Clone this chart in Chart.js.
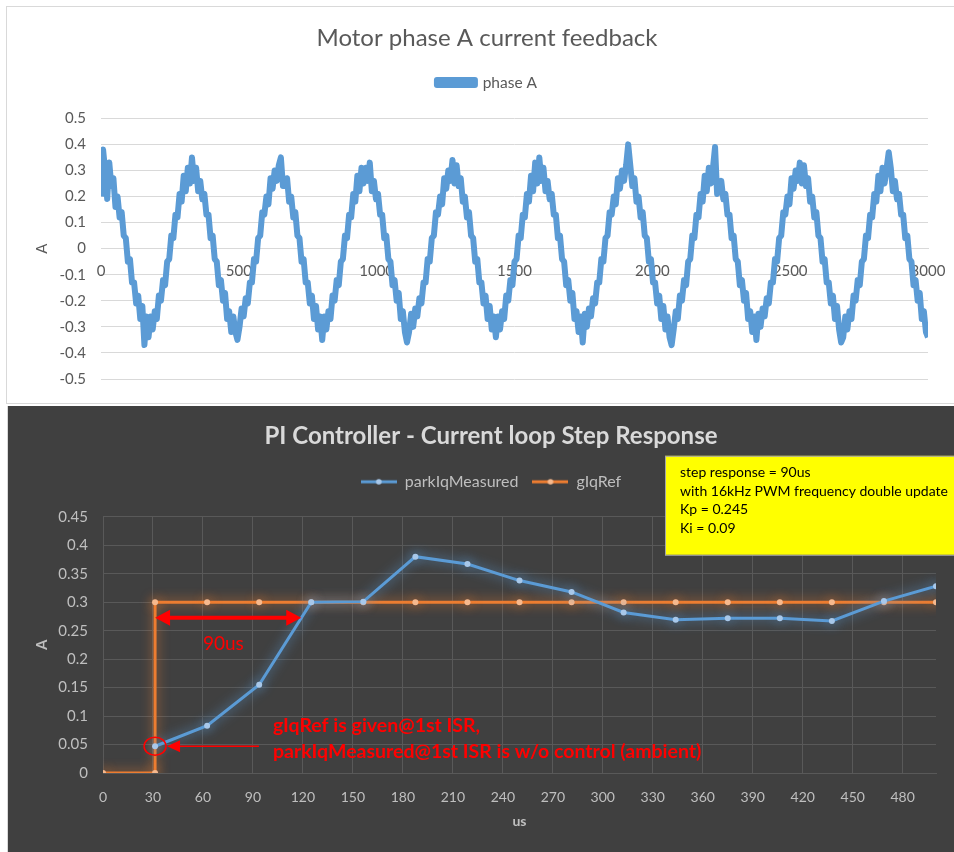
<!DOCTYPE html>
<html>
<head>
<meta charset="utf-8">
<script src="https://cdn.jsdelivr.net/npm/chart.js@4.4.1/dist/chart.umd.min.js"></script>
<style>
  html, body { margin: 0; padding: 0; background: #fff; }
  body { width: 954px; height: 852px; position: relative; overflow: hidden; }
  #topBox { position: absolute; left: 6px; top: 6px; width: 948px; height: 396px;
            border-top: 1px solid #d9d9d9; border-left: 1px solid #d9d9d9; border-bottom: 1px solid #d9d9d9; background: #fff; }
  #botBox { position: absolute; left: 7px; top: 406px; width: 947px; height: 446px;
            border-left: 1px solid #d9d9d9; background: #404040; }
  canvas { display: block; }
</style>
</head>
<body>
<div id="topBox"><canvas id="phaseChart" width="948" height="396"></canvas></div>
<div id="botBox"><canvas id="stepChart" width="947" height="446"></canvas></div>
<script>
// ---- top chart: phase A current, one sample every 7.5 us (one row per electrical period) ----
const phaseStepUs = 7.5;
const phaseA = [
  0.20, 0.38,
  0.30, 0.19, 0.33, 0.24, 0.27, 0.16, 0.20, 0.12, 0.14, 0.05, 0.04, -0.05, -0.04, -0.13, -0.13, -0.21, -0.18, -0.27, -0.22, -0.37, -0.26, -0.34, -0.26, -0.31, -0.24, -0.27, -0.18, -0.20, -0.12, -0.14, -0.05, -0.04, 0.05, 0.04, 0.13, 0.12, 0.21, 0.18, 0.28, 0.22, 0.31, 0.25,
  0.35, 0.26, 0.31, 0.22, 0.26, 0.19, 0.21, 0.13, 0.13, 0.04, 0.05, -0.04, -0.05, -0.14, -0.12, -0.20, -0.17, -0.27, -0.24, -0.32, -0.26, -0.32, -0.35, -0.30, -0.23, -0.26, -0.19, -0.21, -0.13, -0.13, -0.04, -0.05, 0.04, 0.05, 0.14, 0.13, 0.20, 0.17, 0.27, 0.23, 0.30, 0.26,
  0.32, 0.35, 0.24, 0.24, 0.27, 0.18, 0.20, 0.12, 0.14, 0.05, 0.04, -0.05, -0.04, -0.13, -0.13, -0.21, -0.18, -0.27, -0.22, -0.31, -0.26, -0.35, -0.26, -0.31, -0.24, -0.27, -0.18, -0.20, -0.12, -0.14, -0.05, -0.04, 0.05, 0.04, 0.13, 0.12, 0.21, 0.18, 0.28, 0.22, 0.31, 0.25,
  0.31, 0.26, 0.33, 0.22, 0.26, 0.19, 0.21, 0.13, 0.13, 0.04, 0.05, -0.04, -0.05, -0.14, -0.12, -0.20, -0.17, -0.27, -0.24, -0.32, -0.36, -0.32, -0.25, -0.30, -0.23, -0.26, -0.19, -0.21, -0.13, -0.13, -0.04, -0.05, 0.04, 0.05, 0.14, 0.13, 0.20, 0.17, 0.27, 0.23, 0.30, 0.26,
  0.34, 0.25, 0.32, 0.24, 0.27, 0.18, 0.20, 0.12, 0.14, 0.05, 0.04, -0.05, -0.04, -0.13, -0.13, -0.21, -0.18, -0.27, -0.22, -0.31, -0.26, -0.34, -0.26, -0.31, -0.24, -0.27, -0.18, -0.20, -0.12, -0.14, -0.05, -0.04, 0.05, 0.04, 0.13, 0.12, 0.21, 0.18, 0.28, 0.22, 0.33, 0.25,
  0.35, 0.26, 0.31, 0.22, 0.26, 0.19, 0.21, 0.13, 0.13, 0.04, 0.05, -0.04, -0.05, -0.14, -0.12, -0.20, -0.17, -0.27, -0.24, -0.32, -0.26, -0.36, -0.25, -0.30, -0.23, -0.26, -0.19, -0.21, -0.13, -0.13, -0.04, -0.05, 0.04, 0.05, 0.14, 0.13, 0.20, 0.17, 0.27, 0.23, 0.30, 0.26,
  0.32, 0.40, 0.32, 0.24, 0.27, 0.18, 0.20, 0.12, 0.14, 0.05, 0.04, -0.05, -0.04, -0.13, -0.13, -0.21, -0.18, -0.27, -0.22, -0.31, -0.26, -0.34, -0.37, -0.31, -0.24, -0.27, -0.18, -0.20, -0.12, -0.14, -0.05, -0.04, 0.05, 0.04, 0.13, 0.12, 0.21, 0.18, 0.28, 0.22, 0.31, 0.25,
  0.31, 0.39, 0.21, 0.22, 0.26, 0.19, 0.21, 0.13, 0.13, 0.04, 0.05, -0.04, -0.05, -0.14, -0.12, -0.20, -0.17, -0.27, -0.24, -0.32, -0.26, -0.35, -0.25, -0.30, -0.23, -0.26, -0.19, -0.21, -0.13, -0.13, -0.04, -0.05, 0.04, 0.05, 0.14, 0.13, 0.20, 0.17, 0.27, 0.23, 0.30, 0.26,
  0.33, 0.25, 0.32, 0.24, 0.27, 0.18, 0.20, 0.12, 0.14, 0.05, 0.04, -0.05, -0.04, -0.13, -0.13, -0.21, -0.18, -0.27, -0.22, -0.31, -0.36, -0.34, -0.26, -0.31, -0.24, -0.27, -0.18, -0.20, -0.12, -0.14, -0.05, -0.04, 0.05, 0.04, 0.13, 0.12, 0.21, 0.18, 0.28, 0.22, 0.31, 0.25,
  0.31, 0.37, 0.31, 0.22, 0.26, 0.19, 0.21, 0.13, 0.13, 0.04, 0.05, -0.04, -0.05, -0.14, -0.12, -0.20, -0.17, -0.27, -0.24, -0.32, -0.34
];

// ---- bottom chart: PI step response ----
const measTimesUs = [31.25, 62.5, 93.75, 125, 156.25, 187.5, 218.75, 250, 281.25, 312.5, 343.75, 375, 406.25, 437.5, 468.75, 500];
const parkIqMeasured = [0.047, 0.083, 0.155, 0.300, 0.301, 0.380, 0.367, 0.338, 0.318, 0.282, 0.269, 0.272, 0.272, 0.267, 0.302, 0.328];
const refTimesUs = [0, 31.25, 31.25, 62.5, 93.75, 125, 156.25, 187.5, 218.75, 250, 281.25, 312.5, 343.75, 375, 406.25, 437.5, 468.75, 500];
const gIqRef = [0, 0, 0.3, 0.3, 0.3, 0.3, 0.3, 0.3, 0.3, 0.3, 0.3, 0.3, 0.3, 0.3, 0.3, 0.3, 0.3, 0.3];

const noteBox = ['step response = 90us', 'with 16kHz PWM frequency double update', 'Kp = 0.245', 'Ki = 0.09'];
const noteLines = ['gIqRef is given@1st ISR,', 'parkIqMeasured@1st ISR is w/o control (ambient)'];
const spanNote = { from: 31.25, to: 119, at: 0.2725, text: '90us', textX: 60, textY: 0.227 };
const circleNote = { x: 31.25, y: 0.047, arrowFrom: 93.6, textX: 102, textY1: 0.0826, textY2: 0.037 };

Chart.defaults.font.family = 'Lato, "Open Sans", sans-serif';
Chart.defaults.animation = false;

// empty axis used only to leave room between the legend and the plot
const spacerAxis = h => ({
  type: 'linear', axis: 'x', position: 'top',
  ticks: { display: false }, grid: { display: false, drawTicks: false }, border: { display: false },
  afterFit(s) { s.height = h; }
});

const glowPlugin = {
  id: 'glow',
  beforeDatasetDraw(chart, args) {
    const ds = chart.data.datasets[args.index];
    if (!ds.glow) return;
    chart.ctx.save();
    chart.ctx.shadowColor = ds.glow;
    chart.ctx.shadowBlur = 12;
  },
  afterDatasetDraw(chart, args) {
    if (chart.data.datasets[args.index].glow) chart.ctx.restore();
  }
};

new Chart(document.getElementById('phaseChart'), {
  type: 'line',
  data: {
    datasets: [{
      label: 'phase A',
      data: phaseA.map((v, i) => ({ x: i * phaseStepUs, y: v })),
      xAxisID: 'x', yAxisID: 'y',
      borderColor: '#5b9bd5',
      backgroundColor: '#5b9bd5',
      borderWidth: 6,
      borderJoinStyle: 'round',
      pointRadius: 0
    }]
  },
  options: {
    responsive: false,
    layout: { padding: { left: 39, right: 27, top: 0, bottom: 16 } },
    plugins: {
      title: { display: true, text: 'Motor phase A current feedback', color: '#595959',
               font: { size: 24, weight: 'normal' }, padding: { top: 17, bottom: 12 } },
      legend: { labels: { color: '#595959', font: { size: 15.5 }, boxWidth: 38, boxHeight: 5 } },
      tooltip: { enabled: false }
    },
    scales: {
      x: {
        type: 'linear', min: 0, max: 3000, position: { y: 0 },
        ticks: { stepSize: 500, color: '#595959', font: { size: 15 }, padding: 6, callback: v => String(v) },
        grid: { display: false },
        border: { color: '#d9d9d9' }
      },
      y: {
        min: -0.5, max: 0.5,
        ticks: { stepSize: 0.1, color: '#595959', font: { size: 15 }, padding: 15,
                 callback: v => String(Math.round(v * 10) / 10) },
        grid: { color: '#d9d9d9', drawTicks: false },
        border: { display: false },
        title: { display: true, text: 'A', color: '#595959', font: { size: 15 }, padding: { top: -13 } },
        afterFit(s) { s.width = 55; }
      },
      gap: spacerAxis(18)
    }
  }
});

function legendSample(line, dot) {
  const c = document.createElement('canvas');
  c.width = 36; c.height = 8;
  const g = c.getContext('2d');
  g.strokeStyle = line; g.lineWidth = 3;
  g.beginPath(); g.moveTo(0, 4); g.lineTo(36, 4); g.stroke();
  g.fillStyle = dot;
  g.beginPath(); g.arc(18, 4, 2.8, 0, Math.PI * 2); g.fill();
  return c;
}

function arrowHead(ctx, tipX, tipY, dir, len, half) {
  ctx.beginPath();
  ctx.moveTo(tipX, tipY);
  ctx.lineTo(tipX - dir * len, tipY - half);
  ctx.lineTo(tipX - dir * len, tipY + half);
  ctx.closePath();
  ctx.fill();
}

const notesPlugin = {
  id: 'notes',
  afterDraw(chart) {
    const ctx = chart.ctx, xs = chart.scales.x, ys = chart.scales.y, area = chart.chartArea;
    ctx.save();
    // span arrow
    const ay = ys.getPixelForValue(spanNote.at);
    const ax1 = xs.getPixelForValue(spanNote.from), ax2 = xs.getPixelForValue(spanNote.to);
    ctx.strokeStyle = '#ff0000'; ctx.fillStyle = '#ff0000'; ctx.lineWidth = 4;
    ctx.beginPath(); ctx.moveTo(ax1 + 10, ay); ctx.lineTo(ax2 - 10, ay); ctx.stroke();
    arrowHead(ctx, ax1, ay, -1, 15, 8);
    arrowHead(ctx, ax2, ay, 1, 15, 8);
    ctx.font = '19px Lato';
    ctx.textBaseline = 'middle'; ctx.textAlign = 'left';
    ctx.fillText(spanNote.text, xs.getPixelForValue(spanNote.textX), ys.getPixelForValue(spanNote.textY));
    // circle + pointer
    const cx = xs.getPixelForValue(circleNote.x), cy = ys.getPixelForValue(circleNote.y);
    ctx.lineWidth = 1.5;
    ctx.beginPath(); ctx.ellipse(cx, cy, 11, 9, 0, 0, Math.PI * 2); ctx.stroke();
    const tip = cx + 12;
    ctx.beginPath(); ctx.moveTo(tip + 10, cy); ctx.lineTo(xs.getPixelForValue(circleNote.arrowFrom), cy); ctx.stroke();
    arrowHead(ctx, tip, cy, -1, 13, 6);
    ctx.font = 'bold 19.5px Lato';
    const tx = xs.getPixelForValue(circleNote.textX);
    ctx.fillText(noteLines[0], tx, ys.getPixelForValue(circleNote.textY1));
    ctx.fillText(noteLines[1], tx, ys.getPixelForValue(circleNote.textY2));
    // yellow box
    const bx = area.right - 271, by = area.top - 61;
    ctx.fillStyle = '#ffff00';
    ctx.fillRect(bx, by, chart.width - bx + 2, 99);
    ctx.strokeStyle = '#a6a6a6'; ctx.lineWidth = 1;
    ctx.strokeRect(bx + 0.5, by + 0.5, chart.width - bx + 2, 99);
    ctx.fillStyle = '#000';
    ctx.font = '14px Lato';
    noteBox.forEach((t, i) => ctx.fillText(t, bx + 15, by + 17 + i * 18.5));
    ctx.restore();
  }
};

new Chart(document.getElementById('stepChart'), {
  type: 'line',
  data: {
    datasets: [{
      label: 'parkIqMeasured',
      data: measTimesUs.map((t, i) => ({ x: t, y: parkIqMeasured[i] })),
      xAxisID: 'x', yAxisID: 'y',
      borderColor: '#5b9bd5',
      borderWidth: 3,
      pointRadius: 3,
      pointBorderWidth: 0,
      pointBackgroundColor: '#a8c8ea',
      glow: 'rgba(91,155,213,0.9)',
      legendImg: legendSample('#5b9bd5', '#a8c8ea')
    }, {
      label: 'gIqRef',
      data: refTimesUs.map((t, i) => ({ x: t, y: gIqRef[i] })),
      xAxisID: 'x', yAxisID: 'y',
      borderColor: '#ed7d31',
      borderWidth: 3,
      pointRadius: 3,
      pointBorderWidth: 0,
      pointBackgroundColor: '#f6b98e',
      glow: 'rgba(237,125,49,0.9)',
      legendImg: legendSample('#ed7d31', '#f6b98e')
    }]
  },
  options: {
    responsive: false,
    layout: { padding: { left: 38, right: 19, top: 0, bottom: 0 } },
    plugins: {
      title: { display: true, text: 'PI Controller - Current loop Step Response', color: '#d9d9d9',
               font: { size: 24, weight: 'bold' }, padding: { top: 16, bottom: 9 } },
      legend: {
        labels: {
          color: '#bfbfbf', font: { size: 16 }, usePointStyle: true, pointStyleWidth: 36, padding: 14,
          generateLabels(chart) {
            return chart.data.datasets.map((ds, i) => ({
              text: ds.label, pointStyle: ds.legendImg, datasetIndex: i, hidden: false,
              fontColor: '#bfbfbf', lineWidth: 0
            }));
          }
        }
      },
      tooltip: { enabled: false }
    },
    scales: {
      x: {
        type: 'linear', min: 0, max: 500,
        ticks: { stepSize: 30, includeBounds: false, color: '#bfbfbf', font: { size: 14 }, padding: 16 },
        grid: { color: '#595959', drawTicks: false },
        border: { color: '#595959' },
        title: { display: true, text: 'us', color: '#bfbfbf', font: { size: 14, weight: 'bold' }, padding: { bottom: 22 } },
        afterFit(s) { s.height = 79; }
      },
      y: {
        min: 0, max: 0.45,
        ticks: { stepSize: 0.05, color: '#bfbfbf', font: { size: 15 }, padding: 15,
                 callback: v => String(Math.round(v * 100) / 100) },
        grid: { color: '#595959', drawTicks: false },
        border: { color: '#595959' },
        title: { display: true, text: 'A', color: '#bfbfbf', font: { size: 15, weight: 'bold' }, padding: { top: -13 } },
        afterFit(s) { s.width = 57; }
      },
      gap: spacerAxis(17)
    }
  },
  plugins: [glowPlugin, notesPlugin]
});
</script>
</body>
</html>
